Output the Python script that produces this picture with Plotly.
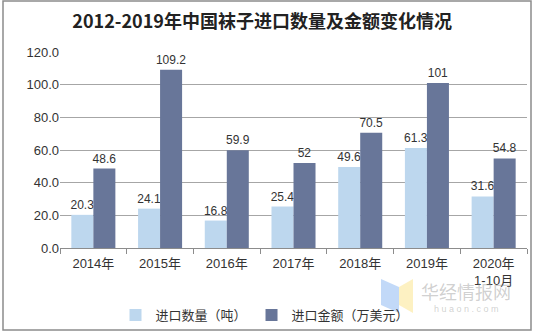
import plotly.graph_objects as go

categories = ["2014年", "2015年", "2016年", "2017年", "2018年", "2019年", "2020年<br>1-10月"]
quantity = [20.3, 24.1, 16.8, 25.4, 49.6, 61.3, 31.6]
amount = [48.6, 109.2, 59.9, 52, 70.5, 101, 54.8]
quantity_labels = ["20.3", "24.1", "16.8", "25.4", "49.6", "61.3", "31.6"]
amount_labels = ["48.6", "109.2", "59.9", "52", "70.5", "101", "54.8"]
y_ticks = [0, 20, 40, 60, 80, 100, 120]
y_tick_text = ["0.0", "20.0", "40.0", "60.0", "80.0", "100.0", "120.0"]

font_main = "Liberation Sans, Noto Sans CJK SC, sans-serif"

fig = go.Figure()
fig.add_trace(go.Bar(
    x=categories, y=quantity, name="进口数量（吨）",
    marker=dict(color="#BDD7EE", line=dict(width=0)),
    text=quantity_labels, textposition="outside", constraintext="none",
    textfont=dict(size=12, color="#333333", family=font_main),
    cliponaxis=False,
))
fig.add_trace(go.Bar(
    x=categories, y=amount, name="进口金额（万美元）",
    marker=dict(color="#687699", line=dict(width=0)),
    text=amount_labels, textposition="outside", constraintext="none",
    textfont=dict(size=12, color="#333333", family=font_main),
    cliponaxis=False,
))

L, R, T, B = 60, 8, 52, 87
W, H = 535, 335
pw, ph = W - L - R, H - T - B

def px(x):
    return (x - L) / pw

def py(y):
    return (H - B - y) / ph

shapes = [
    dict(type="rect", xref="paper", yref="paper",
         x0=px(3), x1=px(531), y0=py(330), y1=py(1),
         line=dict(color="#8c8c8c", width=1.5), layer="below"),
    # watermark logo
    dict(type="path", xref="paper", yref="paper",
         path=f"M {px(381)},{py(279)} L {px(399)},{py(287)} L {px(399)},{py(313)} L {px(381)},{py(305)} Z",
         fillcolor="rgba(120,170,240,0.45)", line=dict(width=0)),
    dict(type="path", xref="paper", yref="paper",
         path=f"M {px(399)},{py(287)} L {px(413)},{py(279)} L {px(413)},{py(313)} L {px(399)},{py(305)} Z",
         fillcolor="rgba(250,225,120,0.45)", line=dict(width=0)),
]

annotations = [
    dict(text="华经情报网", xref="paper", yref="paper", x=px(466), y=py(291),
         showarrow=False, font=dict(size=18, color="rgba(150,150,150,0.45)",
                                    family="Noto Sans CJK SC"), xanchor="center", yanchor="middle"),
    dict(text="h u a o n . c o m", xref="paper", yref="paper", x=px(466), y=py(309),
         showarrow=False, font=dict(size=9, color="rgba(150,150,150,0.45)",
                                    family="Liberation Sans"), xanchor="center", yanchor="middle"),
]

fig.update_layout(
    width=W, height=H,
    margin=dict(l=L, r=R, t=T, b=B, autoexpand=False),
    paper_bgcolor="white", plot_bgcolor="white",
    title=dict(text="<b>2012-2019年中国袜子进口数量及金额变化情况</b>",
               x=0.49, xanchor="center", y=1 - 22 / H, yanchor="middle",
               font=dict(size=18, color="#222222", family="Noto Sans CJK SC")),
    barmode="group", bargap=0.34, bargroupgap=0,
    font=dict(family=font_main, size=13, color="#333333"),
    xaxis=dict(showgrid=False, showline=True, linecolor="#8c8c8c", linewidth=1,
               ticks="outside", tickson="boundaries", ticklen=5, tickcolor="#8c8c8c",
               ticklabelstandoff=3, automargin=False,
               tickfont=dict(size=13, color="#333333", family=font_main)),
    yaxis=dict(range=[0, 120], tickvals=y_ticks, ticktext=y_tick_text,
               showgrid=True, gridcolor="#a6a6a6", gridwidth=1, showline=False,
               zeroline=False, ticks="", ticklen=0, automargin=False,
               tickfont=dict(size=13, color="#333333", family=font_main)),
    legend=dict(orientation="h", x=px(265), xanchor="center", y=py(315), yanchor="middle",
                font=dict(size=13, color="#333333", family="Noto Sans CJK SC"),
                itemwidth=30, traceorder="normal", bgcolor="rgba(0,0,0,0)"),
    shapes=shapes, annotations=annotations,
    showlegend=True,
)

fig.write_html("out.html")
